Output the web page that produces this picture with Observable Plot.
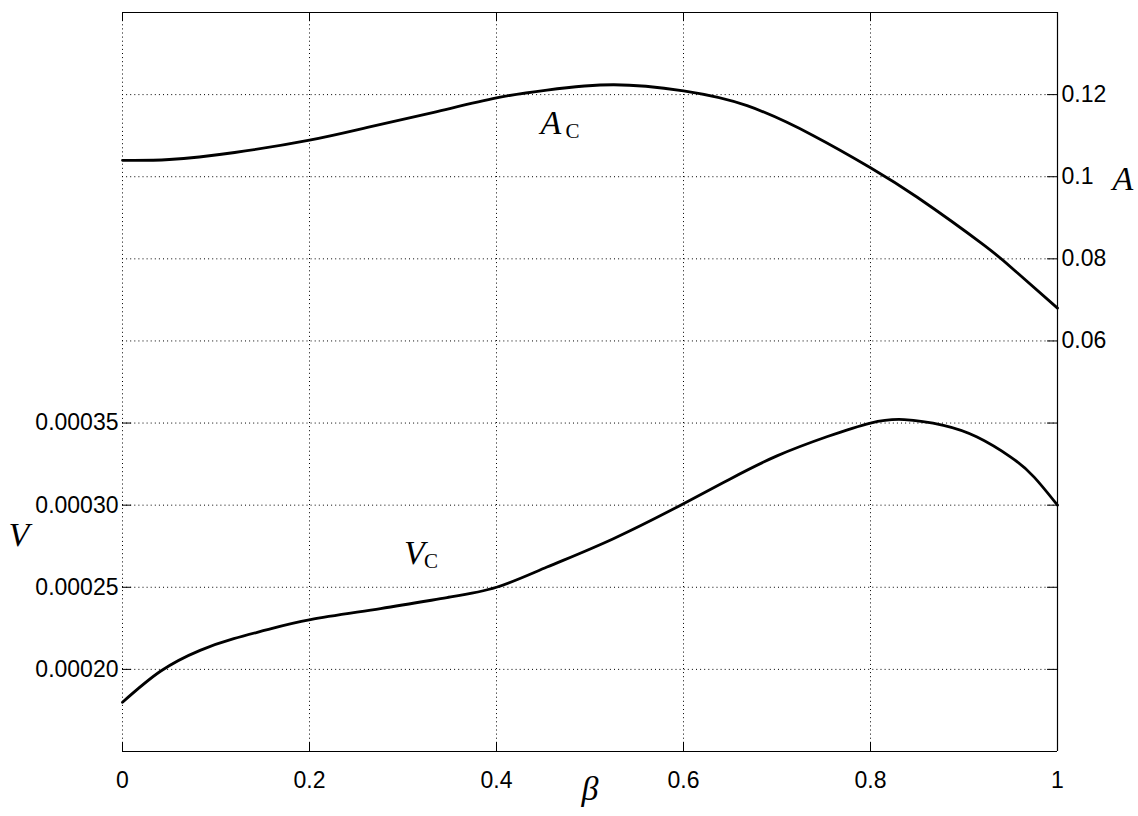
<!DOCTYPE html>
<html><head><meta charset="utf-8">
<script src="https://cdn.jsdelivr.net/npm/d3@7"></script>
<script src="https://cdn.jsdelivr.net/npm/@observablehq/plot@0.6"></script>
<style>body{margin:0;background:#fff;} svg{display:block}</style>
</head><body><div id="chart"></div>
<script>
// A_C curve (right axis)
const betaA = [0, 0.05, 0.12, 0.2, 0.262, 0.333, 0.4, 0.454, 0.525, 0.6, 0.668, 0.739, 0.8, 0.85, 0.921, 0.957, 1.0];
const A = [0.1040, 0.1042, 0.1059, 0.1089, 0.1120, 0.1157, 0.1192, 0.1211, 0.1224, 0.1209, 0.1173, 0.1100, 0.1022, 0.0950, 0.0834, 0.0766, 0.0680];
// V_C curve (left axis)
const betaV = [0, 0.041, 0.083, 0.119, 0.155, 0.201, 0.276, 0.347, 0.4, 0.454, 0.525, 0.6, 0.65, 0.7, 0.754, 0.8, 0.836, 0.878, 0.914, 0.95, 0.975, 1.0];
const V = [0.000180, 0.000199, 0.0002116, 0.0002187, 0.0002242, 0.0002303, 0.000237, 0.0002437, 0.00025, 0.0002623, 0.0002796, 0.0003009, 0.0003160, 0.0003300, 0.0003418, 0.00035, 0.0003521, 0.0003486, 0.0003415, 0.0003293, 0.0003171, 0.0003];

const xTicks = [0, 0.2, 0.4, 0.6, 0.8, 1];
const xTickLabels = ["0", "0.2", "0.4", "0.6", "0.8", "1"];
const vTicks = [0.0002, 0.00025, 0.0003, 0.00035];
const vTickLabels = ["0.00020", "0.00025", "0.00030", "0.00035"];
const aTicks = [0.06, 0.08, 0.1, 0.12];
const aTickLabels = ["0.06", "0.08", "0.1", "0.12"];
const gridV = [0.0002, 0.00025, 0.0003, 0.00035, 0.0004, 0.00045, 0.0005, 0.00055];
const gridX = [0, 0.2, 0.4, 0.6, 0.8];
const vDomain = [0.00015, 0.0006];
const aDomain = [-0.04, 0.14];

const aToV = a => vDomain[0] + (a - aDomain[0]) / (aDomain[1] - aDomain[0]) * (vDomain[1] - vDomain[0]);

const W = 1138, H = 816;
const mL = 122, mR = 81, mT = 12, mB = 65;
const plotW = W - mL - mR, plotH = H - mT - mB;

const dataA = betaA.map((b, i) => ({b, v: aToV(A[i])}));
const dataV = betaV.map((b, i) => ({b, v: V[i]}));
const aTicksV = aTicks.map(aToV);

const sans = "Liberation Sans, Arial, Helvetica, sans-serif";
const serif = "Liberation Serif, Times New Roman, serif";
const dots = "1,3.1";

const chart = Plot.plot({
  width: W, height: H,
  marginLeft: mL, marginRight: mR, marginTop: mT, marginBottom: mB,
  x: {domain: [0, 1]},
  y: {domain: vDomain},
  style: {background: "#fff", color: "black", fontFamily: sans},
  marks: [
    Plot.ruleY(gridV, {y: d => d, stroke: "black", strokeWidth: 1, strokeDasharray: dots}),
    Plot.ruleX(gridX, {x: d => d, stroke: "black", strokeWidth: 1, strokeDasharray: dots}),
    Plot.ruleY([vDomain[0], vDomain[1]], {y: d => d, stroke: "black", strokeWidth: 1.2}),
    Plot.ruleX([1], {x: d => d, stroke: "black", strokeWidth: 1.2}),
    // ticks
    Plot.tickX(xTicks, {x: d => d, insetTop: plotH - 9, stroke: "black"}),
    Plot.tickX(xTicks, {x: d => d, insetBottom: plotH - 9, stroke: "black"}),
    Plot.tickY(vTicks, {y: d => d, insetRight: plotW - 9, stroke: "black"}),
    Plot.tickY(vTicks, {y: d => d, insetLeft: plotW - 10, stroke: "black"}),
    Plot.tickY(aTicksV, {y: d => d, insetLeft: plotW - 10, stroke: "black"}),
    // curves
    Plot.line(dataA, {x: "b", y: "v", curve: "natural", stroke: "black", strokeWidth: 2.8}),
    Plot.line(dataV, {x: "b", y: "v", curve: "natural", stroke: "black", strokeWidth: 2.8}),
    // axes
    Plot.axisX(xTicks, {anchor: "bottom", tickSize: 0, tickPadding: 20, label: null, fontSize: 23,
      tickFormat: d => xTickLabels[xTicks.indexOf(d)]}),
    Plot.axisY(vTicks, {anchor: "left", tickSize: 0, tickPadding: 4, label: null, fontSize: 23,
      tickFormat: d => vTickLabels[vTicks.indexOf(d)]}),
    Plot.axisY(aTicksV, {anchor: "right", tickSize: 0, tickPadding: 4, label: null, fontSize: 23,
      tickFormat: d => aTickLabels[aTicksV.indexOf(d)]}),
    // axis titles
    Plot.text(["V"], {y: 0.0002815, frameAnchor: "left", dx: -114, textAnchor: "start",
      fontFamily: serif, fontStyle: "italic", fontSize: 34}),
    Plot.text(["A"], {y: aToV(0.0995), frameAnchor: "right", dx: 55, textAnchor: "start",
      fontFamily: serif, fontStyle: "italic", fontSize: 34}),
    Plot.text(["β"], {x: 0.5, frameAnchor: "bottom", dy: 48,
      fontFamily: serif, fontStyle: "italic", fontSize: 34}),
    // curve annotations
    Plot.text(["A"], {x: 0.447, y: aToV(0.1105), textAnchor: "start", lineAnchor: "bottom",
      fontFamily: serif, fontStyle: "italic", fontSize: 34}),
    Plot.text(["C"], {x: 0.447, y: aToV(0.1105), dx: 25, dy: 4.5, textAnchor: "start", lineAnchor: "bottom",
      fontFamily: serif, fontSize: 21}),
    Plot.text(["V"], {x: 0.301, y: 0.000264, textAnchor: "start", lineAnchor: "bottom",
      fontFamily: serif, fontStyle: "italic", fontSize: 34}),
    Plot.text(["C"], {x: 0.301, y: 0.000264, dx: 20, dy: 4, textAnchor: "start", lineAnchor: "bottom",
      fontFamily: serif, fontSize: 21})
  ]
});
document.getElementById("chart").appendChild(chart);
</script>
</body></html>
